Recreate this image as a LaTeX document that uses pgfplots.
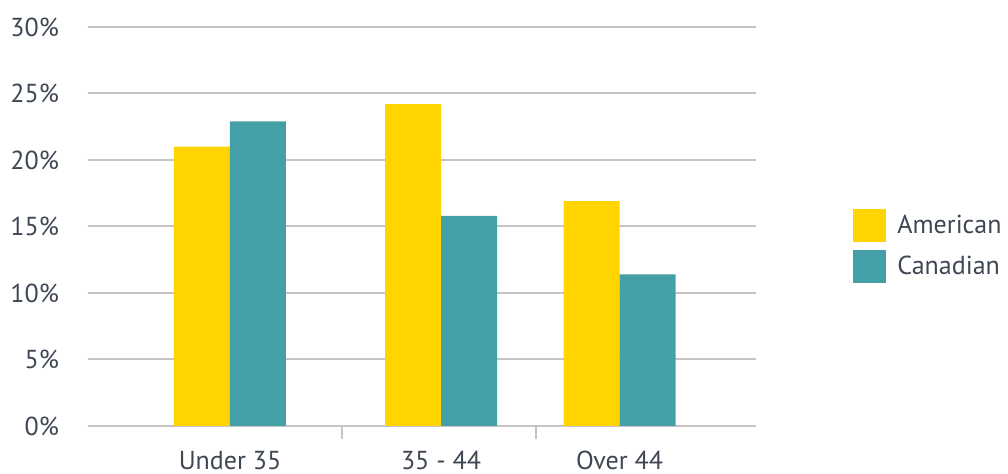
\documentclass[border=0pt]{standalone}
\usepackage{pgfplots}
\pgfplotsset{compat=1.18}
\usepackage{fontspec}
\setmainfont{PT Sans}
\definecolor{amer}{HTML}{FFD400}
\definecolor{cana}{HTML}{44A0A6}
\definecolor{gridgray}{HTML}{C8C4C4}
\definecolor{txt}{HTML}{3E4753}

\begin{document}
\begin{tikzpicture}
\useasboundingbox (-44pt,-24pt) rectangle (460pt,213pt);
\begin{axis}[
  at={(0,0)}, anchor=south west,
  scale only axis, width=334pt, height=199.5pt,
  xmin=88, xmax=756, ymin=0, ymax=30,
  axis x line=bottom, axis y line=left,
  axis line style={draw=none},
  font=\fontsize{13}{15.5}\selectfont\color{txt},
  ytick={0,5,10,15,20,25,30},
  yticklabels={0\%,5\%,10\%,15\%,20\%,25\%,30\%},
  ymajorgrids,
  grid style={gridgray, line width=1pt},
  major tick length=0pt,
  xtick={230,441,619.5},
  xticklabels={Under 35,35 - 44,Over 44},
  xticklabel style={yshift=-9pt},
  yticklabel style={xshift=-11pt},
  extra x ticks={342,536},
  extra x tick labels={},
  extra x tick style={major tick length=6.5pt, tick align=outside,
    tick style={gridgray, line width=1pt}},
  legend style={at={(1.1452,0.451)}, anchor=west, draw=none, fill=none,
    inner sep=0pt, row sep=4pt,
    font=\fontsize{13}{15.5}\selectfont\color{txt}},
  legend cell align=left,
  legend image code/.code={%
    \fill[#1] (0pt,-8.25pt) rectangle (16.5pt,8.25pt);
    \path (20pt,0pt);},
]
\addplot[ybar, fill=amer, draw=none, bar width=56, bar shift=0pt]
  coordinates {(202,21.0) (413,24.2) (591.5,16.9)};
\addlegendentry{American}
\addplot[ybar, fill=cana, draw=none, bar width=56, bar shift=0pt]
  coordinates {(258,22.9) (469,15.8) (647.5,11.4)};
\addlegendentry{Canadian}
\end{axis}
\end{tikzpicture}
\end{document}
